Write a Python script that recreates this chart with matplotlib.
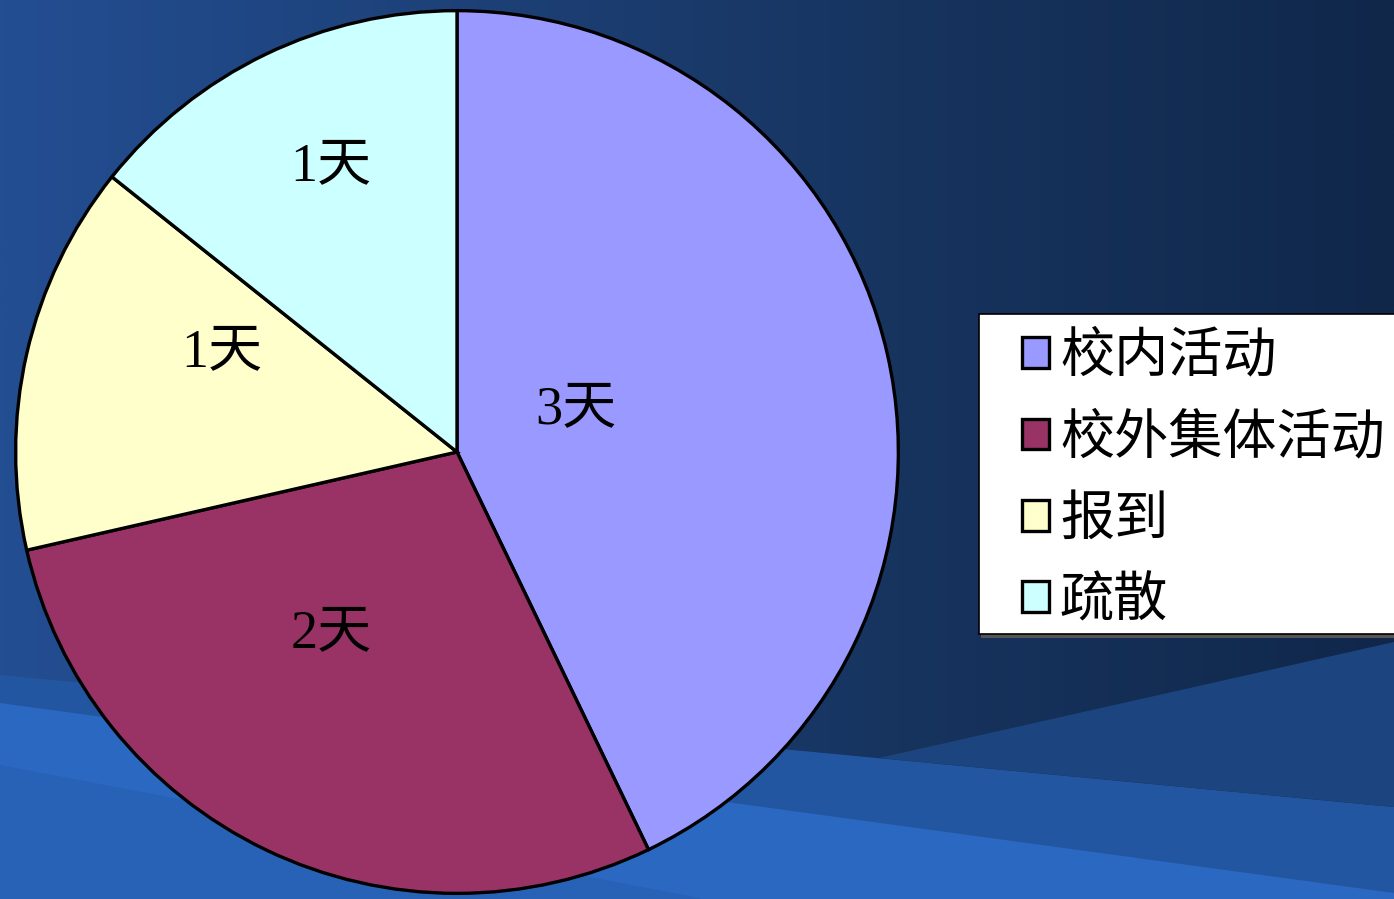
import numpy as np
import matplotlib.pyplot as plt
from matplotlib.patches import Patch, Polygon, Rectangle
from matplotlib.colors import to_rgb

plt.rcParams['font.family'] = ['Liberation Serif', 'Noto Sans CJK SC', 'DejaVu Sans']

# data
categories = ['校内活动', '校外集体活动', '报到', '疏散']
days = [3, 2, 1, 1]
labels = ['3天', '2天', '1天', '1天']
colors = ['#9999FF', '#993366', '#FFFFCC', '#CCFFFF']

W, H = 1394, 899
fig = plt.figure(figsize=(W / 100, H / 100), dpi=100)

# background: dark blue gradient with lighter bands at the bottom
bg = fig.add_axes([0, 0, 1, 1])
bg.set_xlim(0, W)
bg.set_ylim(H, 0)
bg.axis('off')
xs = np.linspace(0, W, 300)
stops_x = [0, 900, W]
grad = np.zeros((2, len(xs), 3))
for c in range(3):
    vals = [to_rgb('#234e92')[c], to_rgb('#17345f')[c], to_rgb('#10274a')[c]]
    grad[:, :, c] = np.interp(xs, stops_x, vals)
bg.imshow(grad, extent=[0, W, H, 0], aspect='auto', interpolation='bilinear')

bg.add_patch(Polygon([(0, 675), (W, 807), (W, H), (0, H)], color='#2356a0', lw=0))
bg.add_patch(Polygon([(879, 758), (W, 642), (W, 807)], color='#1c4580', lw=0))
bg.add_patch(Polygon([(0, 703), (W, 893), (W, H), (0, H)], color='#2a68c2', lw=0))
bg.add_patch(Polygon([(0, 765), (700, 898), (700, H), (0, H)], color='#2862b6', lw=0))

# legend box (runs off the right edge like the original)
bg.add_patch(Rectangle((981, 317), 430, 321, color='#555555', lw=0))
bg.add_patch(Rectangle((979, 314), 430, 320, facecolor='white', edgecolor='black', lw=1.2))

# pie
cx, cy, r = 457, 452, 444
ax = fig.add_axes([(cx - r) / W, (H - cy - r) / H, 2 * r / W, 2 * r / H])
wedges, _ = ax.pie(days, colors=colors, startangle=90, counterclock=False,
                   wedgeprops=dict(edgecolor='black', linewidth=2.4))
ax.set_xlim(-1.006, 1.006)
ax.set_ylim(-1.006, 1.006)
ax.set_aspect('equal')

label_pos = [(0.27, 0.095), (-0.286, -0.412), (-0.534, 0.225), (-0.286, 0.646)]
for lab, (lx, ly) in zip(labels, label_pos):
    ax.text(lx, ly, lab, ha='center', va='center', fontsize=39, color='black')

handles = [Patch(facecolor=c, edgecolor='black', linewidth=2.4) for c in colors]
leg = fig.legend(handles, categories, loc='upper left',
                 bbox_to_anchor=(1022 / W, 1 - 333 / H), fontsize=39,
                 frameon=False, handlelength=0.5, handleheight=0.5,
                 handletextpad=0.2, borderpad=0, labelspacing=0.57,
                 borderaxespad=0)

fig.savefig('out.png', dpi=100)
